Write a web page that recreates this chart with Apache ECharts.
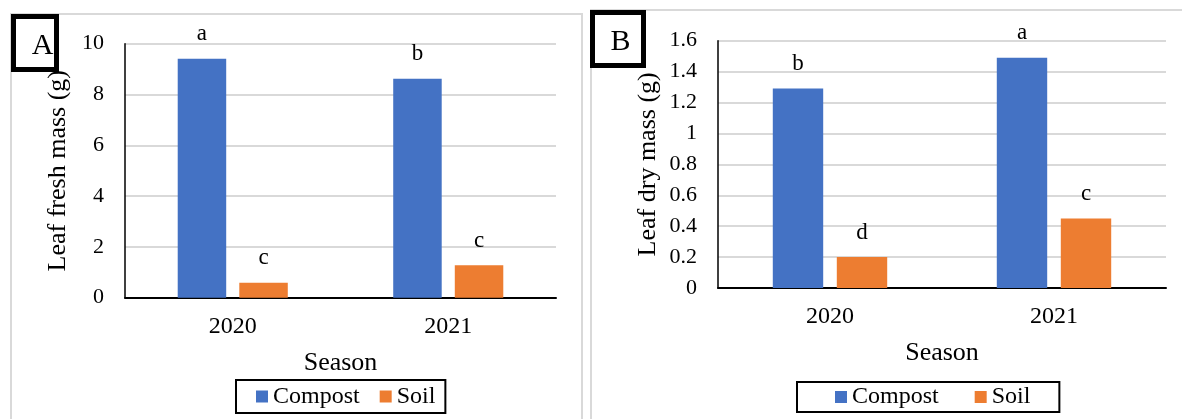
<!DOCTYPE html>
<html>
<head>
<meta charset="utf-8">
<title>Leaf fresh and dry mass by season</title>
<script src="https://cdn.jsdelivr.net/npm/echarts@6/dist/echarts.min.js"></script>
<style>
  html, body { margin: 0; padding: 0; background: #fff; }
  #chart { width: 1182px; height: 419px; }
</style>
</head>
<body>
<div id="chart"></div>
<script>
// Seasons on the category axis
const seasons = ['2020', '2021'];
const seriesNames = ['Compost', 'Soil'];

// Panel A: leaf fresh mass (g)
const freshCompost = [9.41, 8.62];
const freshSoil = [0.59, 1.28];
const freshCompostLetters = ['a', 'b'];
const freshSoilLetters = ['c', 'c'];
const freshTicks = { min: 0, max: 10, step: 2 };

// Panel B: leaf dry mass (g)
const dryCompost = [1.29, 1.49];
const drySoil = [0.2, 0.45];
const dryCompostLetters = ['b', 'a'];
const drySoilLetters = ['d', 'c'];
const dryTicks = { min: 0, max: 1.6, step: 0.2 };

const FONT = '"Liberation Serif", "Times New Roman", serif';
const BLUE = '#4472C4';
const ORANGE = '#ED7D31';
const GRID_LINE = '#D9D9D9';

function bar(name, data, letters, color, axisIdx) {
  return {
    name: name,
    type: 'bar',
    xAxisIndex: axisIdx,
    yAxisIndex: axisIdx,
    data: data,
    barWidth: '22.5%',
    barGap: '27%',
    itemStyle: { color: color },
    label: {
      show: true,
      position: 'top',
      distance: 13,
      formatter: p => letters[p.dataIndex],
      fontFamily: FONT,
      fontSize: 23,
      lineHeight: 23,
      color: '#000'
    }
  };
}

function xAxis(gridIndex) {
  return {
    type: 'category',
    gridIndex: gridIndex,
    data: seasons,
    name: 'Season',
    nameLocation: 'middle',
    nameGap: 52,
    nameTextStyle: { fontFamily: FONT, fontSize: 26, color: '#000' },
    axisLine: { show: true, lineStyle: { color: '#000', width: 2 } },
    axisTick: { show: false },
    axisLabel: { fontFamily: FONT, fontSize: 24, lineHeight: 24, color: '#000', margin: 17 },
    splitLine: { show: false }
  };
}

function yAxis(gridIndex, ticks, title, gap) {
  return {
    type: 'value',
    gridIndex: gridIndex,
    min: ticks.min,
    max: ticks.max,
    interval: ticks.step,
    name: title,
    nameLocation: 'middle',
    nameGap: gap,
    nameTextStyle: { fontFamily: FONT, fontSize: 26, color: '#000' },
    axisLine: { show: true, lineStyle: { color: '#000', width: 1.5 } },
    axisTick: { show: false },
    axisLabel: { fontFamily: FONT, fontSize: 22, color: '#000', margin: 21 },
    splitLine: { show: true, lineStyle: { color: GRID_LINE, width: 2 } }
  };
}

function legend(left, top, padding, gap) {
  return {
    data: seriesNames,
    left: left,
    top: top,
    orient: 'horizontal',
    icon: 'rect',
    itemWidth: 12,
    itemHeight: 12,
    itemGap: gap,
    padding: padding,
    borderColor: '#000',
    borderWidth: 2,
    borderRadius: 0,
    selectedMode: false,
    textStyle: { fontFamily: FONT, fontSize: 24, lineHeight: 24, color: '#000' }
  };
}

function panelLetter(x, y, w, h, letter, cx, cy) {
  return [
    {
      type: 'rect', z: 100, silent: true,
      shape: { x: x, y: y, width: w, height: h },
      style: { fill: '#fff', stroke: '#000', lineWidth: 5 }
    },
    {
      type: 'text', z: 101, silent: true,
      style: {
        x: cx, y: cy, text: letter, align: 'center', verticalAlign: 'middle',
        font: '30px ' + FONT, fill: '#000'
      }
    }
  ];
}

const chart = echarts.init(document.getElementById('chart'), null, { renderer: 'canvas' });

chart.setOption({
  backgroundColor: '#fff',
  animation: false,
  grid: [
    { left: 125, right: 626, top: 43.7, bottom: 121.3, containLabel: false },
    { left: 718, right: 16, top: 40.7, bottom: 131, containLabel: false }
  ],
  xAxis: [xAxis(0), xAxis(1)],
  yAxis: [
    yAxis(0, freshTicks, 'Leaf fresh mass (g)', 53.5),
    yAxis(1, dryTicks, 'Leaf dry mass (g)', 57)
  ],
  legend: [
    legend(236, 380, [4.5, 10, 4.5, 20], 20),
    legend(797, 382, [3, 29, 3, 38], 36)
  ],
  series: [
    bar('Compost', freshCompost, freshCompostLetters, BLUE, 0),
    bar('Soil', freshSoil, freshSoilLetters, ORANGE, 0),
    bar('Compost', dryCompost, dryCompostLetters, BLUE, 1),
    bar('Soil', drySoil, drySoilLetters, ORANGE, 1)
  ],
  graphic: [
    // Panel frames
    {
      type: 'rect', z: -1, silent: true,
      shape: { x: 11, y: 14, width: 571, height: 440 },
      style: { fill: 'none', stroke: GRID_LINE, lineWidth: 2 }
    },
    {
      type: 'rect', z: -1, silent: true,
      shape: { x: 591, y: 10, width: 640, height: 440 },
      style: { fill: 'none', stroke: GRID_LINE, lineWidth: 2 }
    },
    ...panelLetter(13.5, 16.5, 43, 53, 'A', 42.5, 46),
    ...panelLetter(592.5, 12.5, 51, 53, 'B', 620.5, 42)
  ]
});
</script>
</body>
</html>
